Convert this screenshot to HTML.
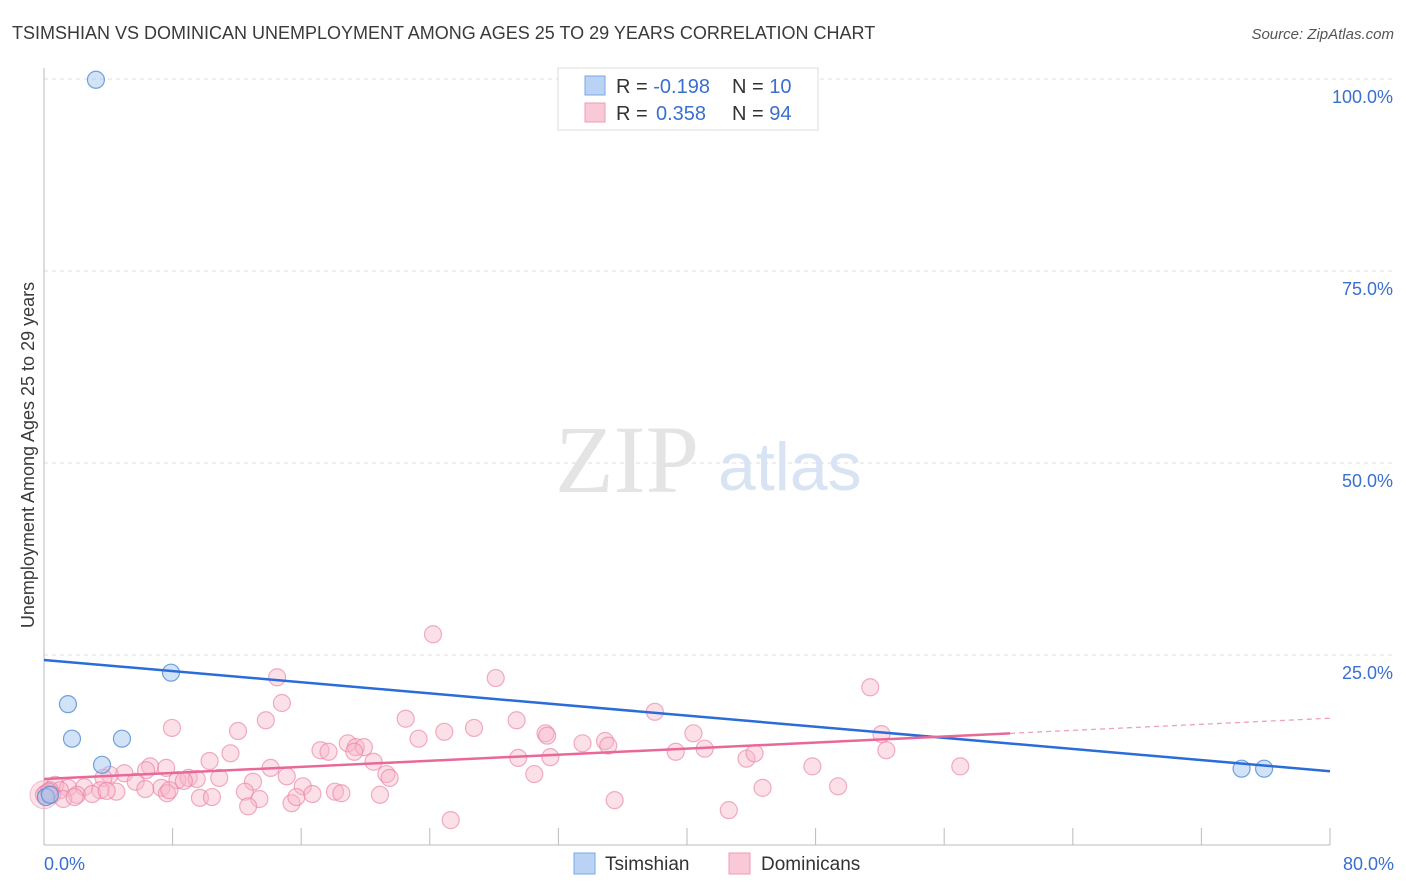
<!DOCTYPE html>
<html><head><meta charset="utf-8"><style>
body{margin:0;background:#fff;font-family:"Liberation Sans",sans-serif;}
svg{display:block}
</style></head><body>
<svg width="1406" height="892">
<text x="12" y="39" font-size="18" fill="#3a3a3a">TSIMSHIAN VS DOMINICAN UNEMPLOYMENT AMONG AGES 25 TO 29 YEARS CORRELATION CHART</text>
<text x="1394" y="39" font-size="15" fill="#555" font-style="italic" text-anchor="end">Source: ZipAtlas.com</text>
<text transform="translate(34,455) rotate(-90)" font-size="18" fill="#3a3a3a" text-anchor="middle">Unemployment Among Ages 25 to 29 years</text>
<g id="grid"></g>
<text x="555" y="492" font-size="96" fill="#e4e4e4" font-family="Liberation Serif,serif">ZIP</text>
<text x="718" y="490" font-size="68" fill="#d8e4f4">atlas</text>
<g id="plot"></g>
<g>
<rect x="558" y="68" width="260" height="62" fill="#fff" stroke="#ddd"/>
<rect x="585" y="76" width="20" height="19" fill="#b9d3f5" stroke="#7aa7e6"/>
<rect x="585" y="103" width="20" height="19" fill="#f9c9d7" stroke="#ee9cb5"/>
<text x="616" y="93" font-size="20" fill="#333">R = <tspan fill="#3a6fd0">-0.198</tspan><tspan x="732">N = </tspan><tspan fill="#3a6fd0">10</tspan></text>
<text x="616" y="120" font-size="20" fill="#333">R = <tspan x="656" fill="#3a6fd0">0.358</tspan><tspan x="732">N = </tspan><tspan fill="#3a6fd0">94</tspan></text>
</g>
<g>
<rect x="574" y="853" width="21" height="21" fill="#b9d3f5" stroke="#7aa7e6"/>
<text x="605" y="870" font-size="19" fill="#333">Tsimshian</text>
<rect x="729" y="853" width="21" height="21" fill="#f9c9d7" stroke="#ee9cb5"/>
<text x="761" y="870" font-size="19" fill="#333">Dominicans</text>
</g>
</svg>
<script>
const yTicks=[25,50,75,100];
const yTickLabels=["25.0%","50.0%","75.0%","100.0%"];
const xTickLabels=["0.0%","80.0%"];
const tsX=[3.23,1.49,1.74,4.85,3.61,7.9,0.12,74.5,75.9,0.37];
const tsY=[99.9,18.6,14.1,14.1,10.7,22.7,6.5,10.2,10.2,6.8];
const doX=[24.2,14.5,28.1,51.4,14.8,38.0,7.96,12.07,13.8,22.5,26.75,29.4,31.2,40.4,52.1,23.3,24.9,31.3,33.5,34.9,35.1,18.9,17.2,17.7,19.4,19.9,19.3,11.6,10.3,29.5,31.5,39.3,41.1,43.7,44.2,52.4,57.0,47.8,20.5,6.6,6.35,7.6,4.1,5.0,5.7,3.7,0.7,1.5,2.5,8.3,9.0,9.5,10.9,13.0,14.1,15.1,16.1,21.3,21.5,30.5,7.3,6.3,4.5,3.5,2.05,3.0,3.9,1.0,0.37,0.12,8.7,12.5,13.4,9.7,10.45,15.4,15.7,16.7,18.1,18.5,20.9,12.7,7.65,25.3,35.5,42.6,44.7,49.4,7.8,0.5,1.2,1.9,0,0.3];
const doY=[27.7,22.1,22.0,20.8,18.75,17.6,15.5,15.1,16.5,16.7,15.5,16.5,14.8,14.8,14.7,14.1,15.0,14.5,13.5,13.8,13.2,13.5,12.6,12.4,13.0,13.0,12.4,12.2,11.2,11.6,11.7,12.4,12.8,11.5,12.2,12.6,10.5,10.5,11.1,10.5,10.0,10.3,9.4,9.6,8.5,9.0,8.1,7.7,7.8,8.7,9.0,8.85,9.0,8.5,10.3,9.2,7.9,9.5,9.0,9.5,7.7,7.55,7.2,7.4,6.8,6.9,7.3,7.4,7.4,7.0,8.6,7.2,6.25,6.4,6.5,5.7,6.5,6.9,7.2,7.0,6.8,5.3,7.0,3.5,6.1,4.8,7.7,7.9,7.4,6.8,6.25,6.5,6.8,7.2];
const tsFit=[24.35,-0.181]; // intercept, slope
const doFit=[8.85,0.099];
const doSolidEnd=60.1;
const X=v=>44+v/80*1286, Y=v=>847-v/100*768;
const NS="http://www.w3.org/2000/svg";
const grid=document.getElementById('grid'), plot=document.getElementById('plot');
function mk(tag,attrs,parent){const e=document.createElementNS(NS,tag);for(const k in attrs)e.setAttribute(k,attrs[k]);parent.appendChild(e);return e;}
yTicks.forEach((t,i)=>{
 const l=mk('line',{x1:44,x2:1394,y1:Y(t),y2:Y(t),stroke:'#ddd','stroke-dasharray':'4,4'},grid);
 
 
 const tx=mk('text',{x:1393,y:Y(t)+24,'font-size':18,fill:'#3a6fd0','text-anchor':'end'},grid);
 tx.textContent=yTickLabels[i];
 
 
});
const ax=mk('line',{x1:44,x2:44,y1:68,y2:845,stroke:'#bbb'},grid);


const bx=mk('line',{x1:44,x2:1330,y1:845,y2:845,stroke:'#bbb'},grid);


for(let i=1;i<=10;i++){const t=mk('line',{x1:X(i*8),x2:X(i*8),y1:828,y2:845,stroke:'#bbb'},grid);
 
 }
[[0,'start',44],[80,'end',1394]].forEach((d,i)=>{const t=mk('text',{x:d[2],y:870,'font-size':18,fill:'#3a6fd0','text-anchor':d[1]},grid);t.textContent=xTickLabels[i];
 
 });
const big=mk('circle',{cx:X(0),cy:Y(6.8),r:14,fill:'rgba(248,180,200,0.4)',stroke:'rgba(232,138,168,0.5)'},plot);


doX.forEach((x,i)=>{const c=mk('circle',{cx:X(x),cy:Y(doY[i]),r:8.5,fill:'rgba(248,180,200,0.42)',stroke:'rgba(232,130,165,0.65)','stroke-width':1.2},plot);
 
 });
tsX.forEach((x,i)=>{const c=mk('circle',{cx:X(x),cy:Y(tsY[i]),r:8.5,fill:'rgba(165,198,240,0.5)',stroke:'rgba(80,140,215,0.8)','stroke-width':1.2},plot);
 
 });
const tl=mk('line',{x1:X(0),y1:Y(tsFit[0]),x2:X(80),y2:Y(tsFit[0]+tsFit[1]*80),stroke:'#2a6dd8','stroke-width':2.5},plot);


const dl=mk('line',{x1:X(0),y1:Y(doFit[0]),x2:X(doSolidEnd),y2:Y(doFit[0]+doFit[1]*doSolidEnd),stroke:'#e8689a','stroke-width':2.5},plot);


const dd=mk('line',{x1:X(doSolidEnd),y1:Y(doFit[0]+doFit[1]*doSolidEnd),x2:X(80),y2:Y(doFit[0]+doFit[1]*80),stroke:'#eea0bc','stroke-width':1.3,'stroke-dasharray':'5,4'},plot);


</script>
</body></html>
